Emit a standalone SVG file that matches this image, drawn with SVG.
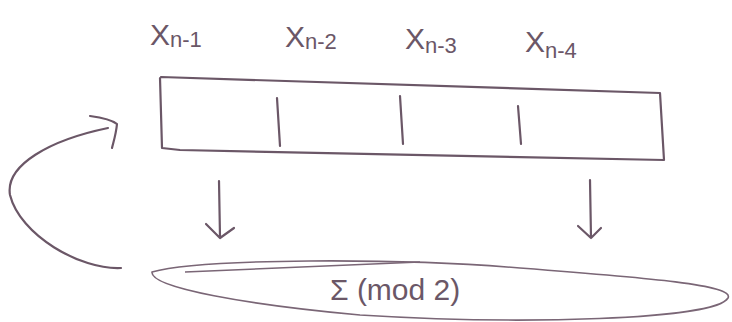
<svg xmlns="http://www.w3.org/2000/svg" width="732" height="322" viewBox="0 0 732 322">
<style>
.ln{fill:none;stroke:#6b5767;stroke-width:2.2;stroke-linecap:round;stroke-linejoin:round}
.thin{fill:none;stroke:#7a6676;stroke-width:1.6}
.t{font-family:"Liberation Sans",Arial,sans-serif;fill:#6b5767;font-size:30px}
.s{font-size:22px}
</style>
<rect width="732" height="322" fill="#ffffff"/>
<g id="labels">
<text class="t" x="150" y="45">X<tspan class="s" dy="2">n-1</tspan></text>
<text class="t" x="285" y="47">X<tspan class="s" dy="2">n-2</tspan></text>
<text class="t" x="405" y="49">X<tspan class="s" dy="4">n-3</tspan></text>
<text class="t" x="525" y="52">X<tspan class="s" dy="6">n-4</tspan></text>
</g>
<g id="register">
<path class="ln" d="M161,77 L660,93 L664,160 M160,78 L162,148 L180,150 L664,160"/>
<path class="ln" d="M277,98 L280,146 M400,96 L403,144 M518,106 L521,144"/>
</g>
<g id="sum">
<path class="thin" d="M152,272 C200,258 400,258 520,268 C650,278 735,285 728,298 C715,320 520,325 360,315 C250,305 150,288 152,272 Z"/>
<path class="thin" d="M185,272 L420,262"/>
<text class="t" x="330" y="300" font-size="26">Σ (mod 2)</text>
</g>
<g id="connectors">
<path class="ln" d="M219,181 L220,237 M206,224 L220,238 L234,228"/>
<path class="ln" d="M590,180 L591,238 M578,226 L591,238 L601,228"/>
<path class="ln" d="M121,268 C80,270 20,235 10,195 C5,165 50,140 108,128"/>
<path class="ln" d="M90,116 C105,118 112,120 117,124 C116,134 114,140 112,148"/>
</g>
</svg>
